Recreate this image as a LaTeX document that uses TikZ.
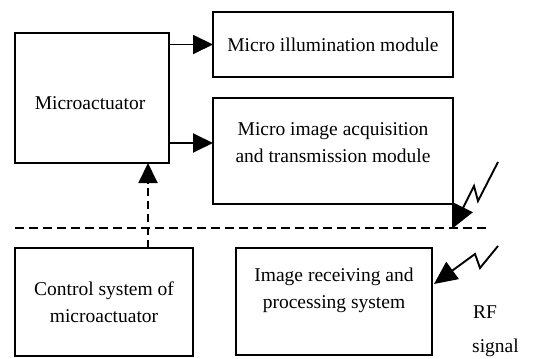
\documentclass[tikz,border=0pt]{standalone}
\usepackage{fontspec}
\setmainfont{Liberation Serif}
\usepackage{tikz}
\usetikzlibrary{arrows.meta}
\tikzset{
  blockbox/.style={draw, line width=1.9pt, inner sep=0pt, outer sep=0pt, align=center},
  blocktext/.style={inner sep=0pt, align=center},
  flowarrow/.style={line width=1.9pt, -{Triangle[length=20pt,width=19pt]}},
  boltarrow/.style={line width=1.9pt, line join=miter, -{Triangle[length=23pt,width=21pt]}},
  sepline/.style={line width=1.9pt, dash pattern=on 9pt off 5pt},
}
\begin{document}
\begin{tikzpicture}[x=1pt,y=-1pt,font=\fontsize{19.5}{27}\selectfont]
            \useasboundingbox (0,0) rectangle (534,358);
            % blocks above the line
            \node[blockbox, minimum width=154pt, minimum height=130pt] (act) at (92,98) {};
            \node[blocktext] (acttxt) at (90,103) {Microactuator};
            \node[blockbox, minimum width=240pt, minimum height=65pt] (illum) at (333,44.5) {Micro illumination module};
            \node[blockbox, minimum width=240pt, minimum height=106pt] (acq) at (333,151) {};
            \node[blocktext] (acqtxt) at (333,143) {Micro image acquisition\\and transmission module};
            % blocks below the line
            \node[blockbox, minimum width=178pt, minimum height=108pt] (ctrl) at (104,302) {Control system of\\microactuator};
            \node[blockbox, minimum width=196pt, minimum height=107pt] (recv) at (334,301.5) {};
            \node[blocktext] (recvtxt) at (334,290) {Image receiving and\\processing system};
            \node[blocktext, anchor=west] (rf) at (473,312) {RF};
            \node[blocktext, anchor=west] (sig) at (472,348) {signal};
            % helper points
            \coordinate (sepL) at (15,228);
            \coordinate (sepR) at (488,228);
            \coordinate (up) at (148,0);
            \coordinate (tipA) at (acq.south east |- sepR);
            \coordinate (tipB) at (434,284);
            % connectors
            \draw[flowarrow] (act.east |- illum.west) -- (illum.west);
            \draw[flowarrow] (act.east |- acqtxt) -- (acq.west |- acqtxt);
            \draw[flowarrow, dash pattern=on 8pt off 5pt] (ctrl.north -| up) -- (act.south -| up);
            \draw[sepline] (sepL) -- (sepR);
            \draw[line width=1.9pt] (acq.south east) -- (tipA);
            % RF links
            \draw[boltarrow] (498,162) -- (478,201) -- (474,186) -- (tipA);
            \draw[boltarrow] (498,246) -- (480,268) -- (475,254) -- (tipB);
        \end{tikzpicture}
\end{document}
